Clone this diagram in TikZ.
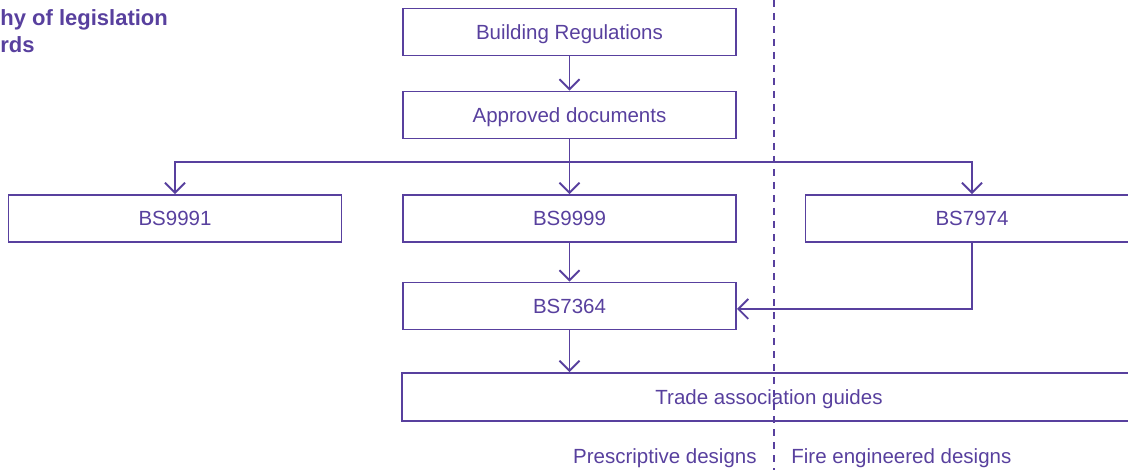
\documentclass[tikz,border=0pt]{standalone}
\usepackage{fontspec}
\setmainfont{Liberation Sans}
\usetikzlibrary{arrows.meta}
\definecolor{lpurple}{RGB}{88,64,158}

\begin{document}
\begin{tikzpicture}[x=0.5pt,y=-0.5pt,
    ln/.style={draw=lpurple,line width=0.95pt},
    barb/.style={ln,-{Straight Barb[length=5pt,width=10pt]}}]
\clip (0,0) rectangle (1128,470);
\begin{scope}[every node/.style={rectangle,draw=lpurple,line width=0.95pt,
        text=lpurple,inner sep=0pt,minimum width=166.5pt,minimum height=23.5pt,
        text height=7.35pt,text depth=0pt,font=\fontsize{10.25}{12}\selectfont}]
    \node (b1) at (569.5,32) {Building Regulations};
    \node (b2) at (569.5,115) {Approved documents};
    \node (b3) at (175,218.5) {BS9991};
    \node (b4) at (569.5,218.5) {BS9999};
    \node (b5) at (972,218.5) {BS7974};
    \node (b6) at (569.5,306) {BS7364};
    \node[minimum width=367pt,minimum height=24pt] (b7) at (769,397) {Trade association guides};
\end{scope}
\coordinate (bus) at (569.5,162);
\coordinate (top) at (774,0);
\coordinate (bot) at (774,470);
\begin{scope}[every node/.style={text=lpurple,inner sep=0pt}]
    \node[anchor=base west,font=\bfseries\fontsize{11}{13.5}\selectfont] (t1) at (0,26) {hy of legislation};
    \node[anchor=base west,font=\bfseries\fontsize{11}{13.5}\selectfont] (t2) at (0,53) {rds};
    \node[anchor=base east,font=\fontsize{10.25}{12}\selectfont] (l1) at (757,463) {Prescriptive designs};
    \node[anchor=base west,font=\fontsize{10.25}{12}\selectfont] (l2) at (791,463) {Fire engineered designs};
\end{scope}
\begin{scope}[every edge/.style={barb}]
    \path (b1) edge (b2);
    \path (b2) edge (b4);
    \path (b4) edge (b6);
    \path (b6.south) edge (b6.south |- b7.north);
\end{scope}
\draw[barb] (bus) -| (b3.north);
\draw[barb] (bus) -| (b5.north);
\draw[barb] (b5.south) |- (b6.-1.5);
\draw[ln,dash pattern=on 3.5pt off 3pt] (top) -- (bot);
\end{tikzpicture}
\end{document}
